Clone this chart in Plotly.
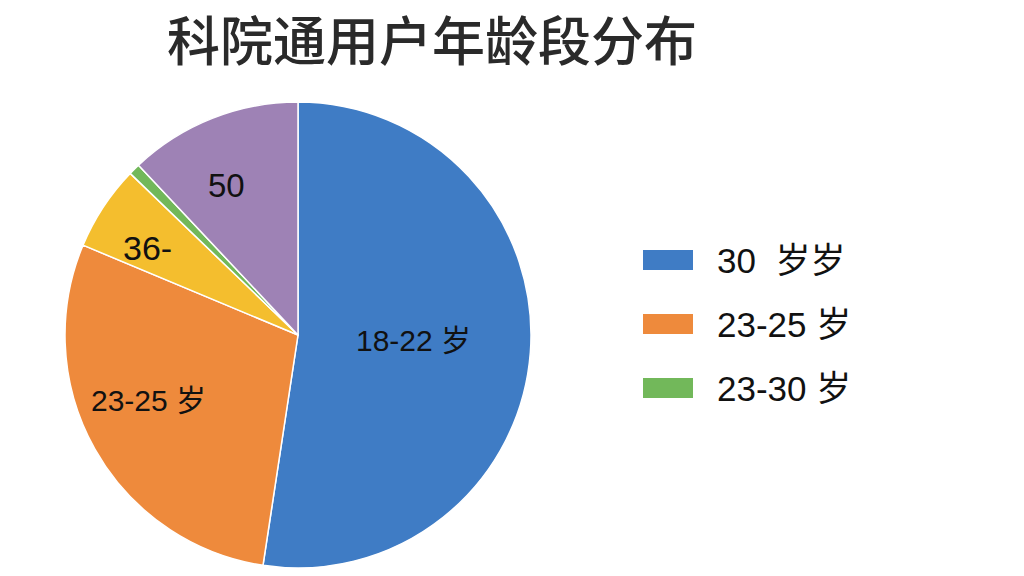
import plotly.graph_objects as go

# 各年龄段占比
slice_names = ['18-22 岁', '23-25 岁', '26-35 岁', '36-50 岁', '50 岁以上']
slice_values = [52.4, 28.9, 5.9, 0.8, 12.0]
slice_colors = ['#3f7cc5', '#ee8a3c', '#f4be2e', '#72b85a', '#9e82b5']

# 扇区上的文字
slice_text = ['18-22 岁', '23-25 岁', '36-', '', '50']
text_x = [413, 148, 147, None, 226]
text_y = [340, 400, 248, None, 185]
text_size = [30, 30, 34, 30, 33]

# 图例 (原图只列了三项)
legend_names = ['30  岁岁', '23-25 岁', '23-30 岁']
legend_colors = ['#3f7cc5', '#ee8a3c', '#72b85a']

W, H = 1024, 576
font_fam = 'Liberation Sans, Arial, Noto Sans CJK SC'

fig = go.Figure(go.Pie(
    labels=slice_names,
    values=slice_values,
    sort=False,
    direction='clockwise',
    rotation=0,
    marker=dict(colors=slice_colors, line=dict(color='white', width=1.5)),
    textinfo='none',
    hoverinfo='label+percent',
    showlegend=False,
    domain=dict(x=[(298 - 233) / W, (298 + 233) / W],
                y=[1 - 568 / H, 1 - 102 / H]),
))

# 扇区标签
for t, x, y, s in zip(slice_text, text_x, text_y, text_size):
    if not t:
        continue
    fig.add_annotation(x=x / W, y=1 - y / H, xref='paper', yref='paper',
                       text=t, showarrow=False, xanchor='center', yanchor='middle',
                       font=dict(size=s, color='#111', family=font_fam))

# 自制图例
for i, (name, col) in enumerate(zip(legend_names, legend_colors)):
    yc = 260 + i * 64
    fig.add_shape(type='rect', xref='paper', yref='paper',
                  x0=643 / W, x1=693 / W,
                  y0=1 - (yc + 10) / H, y1=1 - (yc - 10) / H,
                  fillcolor=col, line=dict(width=0))
    fig.add_annotation(x=715 / W, y=1 - yc / H, xref='paper', yref='paper',
                       text=name, showarrow=False, xanchor='left', yanchor='middle',
                       font=dict(size=35, color='#111', family=font_fam))

fig.update_layout(
    width=W, height=H,
    margin=dict(l=0, r=0, t=0, b=0),
    paper_bgcolor='white',
    title=dict(text='科院通用户年龄段分布', x=432 / W, xanchor='center',
               y=1 - 42 / H, yanchor='middle',
               font=dict(size=53, color='#2a2a2a', family='Noto Sans CJK SC',
                         weight=500)),
)

# 去掉页面默认边距, 让图正好铺满窗口
fig.write_html('out.html', config={'displayModeBar': False},
               post_script="document.body.style.margin='0';")
